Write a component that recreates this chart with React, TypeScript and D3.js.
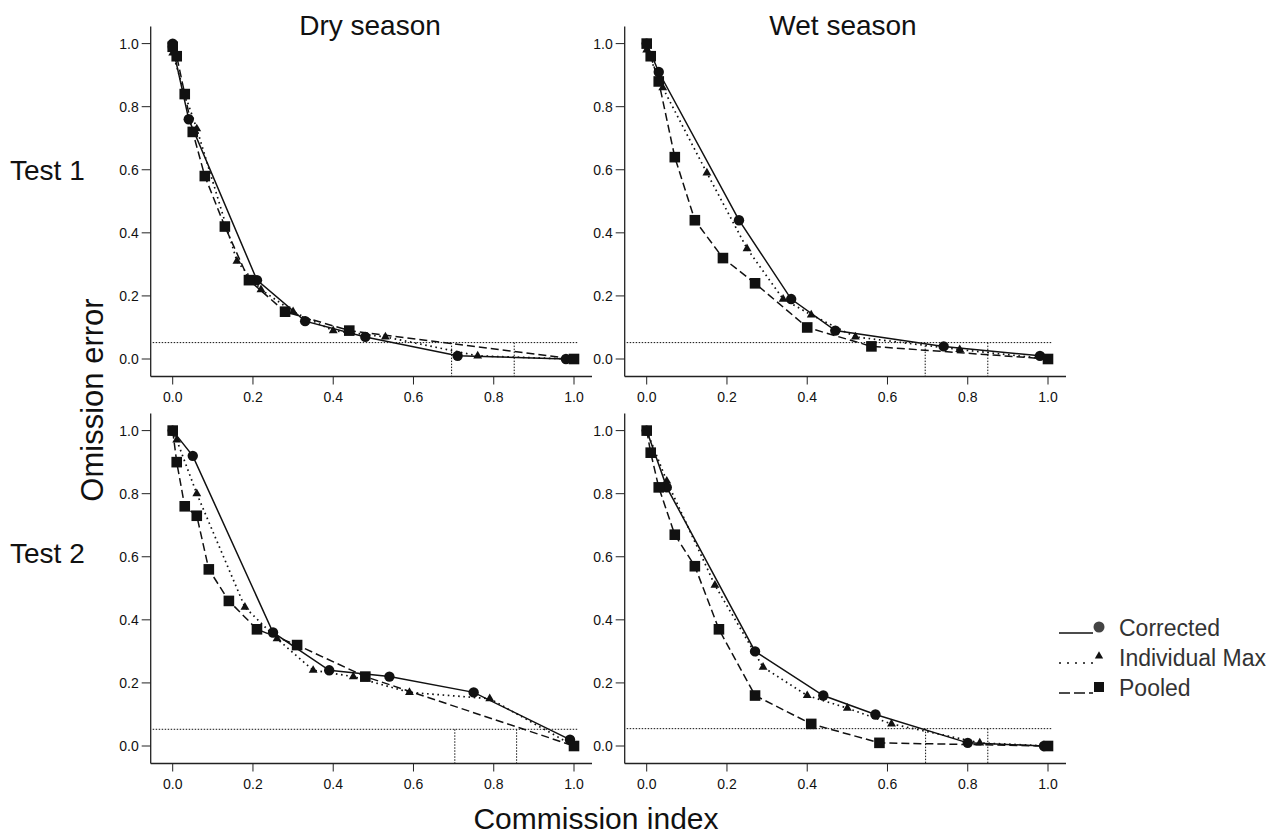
import React from "react";
import * as d3 from "d3";

type Pt = [number, number];

// Commission index (x), Omission error (y)
const dryT1Corrected: Pt[] = [[0, 1.0], [0.0, 0.99], [0.04, 0.76], [0.21, 0.25], [0.33, 0.12], [0.48, 0.07], [0.71, 0.01], [0.98, 0.0]];
const dryT1IndMax: Pt[] = [[0, 0.97], [0.03, 0.84], [0.06, 0.73], [0.16, 0.31], [0.22, 0.22], [0.3, 0.15], [0.4, 0.09], [0.53, 0.07], [0.76, 0.01], [0.99, 0.0]];
const dryT1Pooled: Pt[] = [[0, 0.99], [0.01, 0.96], [0.03, 0.84], [0.05, 0.72], [0.08, 0.58], [0.13, 0.42], [0.19, 0.25], [0.28, 0.15], [0.44, 0.09], [1.0, 0.0]];

const wetT1Corrected: Pt[] = [[0, 1.0], [0.03, 0.91], [0.23, 0.44], [0.36, 0.19], [0.47, 0.09], [0.74, 0.04], [0.98, 0.01]];
const wetT1IndMax: Pt[] = [[0, 0.98], [0.04, 0.86], [0.15, 0.59], [0.25, 0.35], [0.34, 0.19], [0.41, 0.14], [0.52, 0.07], [0.78, 0.03], [1.0, 0.0]];
const wetT1Pooled: Pt[] = [[0, 1.0], [0.01, 0.96], [0.03, 0.88], [0.07, 0.64], [0.12, 0.44], [0.19, 0.32], [0.27, 0.24], [0.4, 0.1], [0.56, 0.04], [1.0, 0.0]];

const dryT2Corrected: Pt[] = [[0, 1.0], [0.05, 0.92], [0.25, 0.36], [0.39, 0.24], [0.54, 0.22], [0.75, 0.17], [0.99, 0.02]];
const dryT2IndMax: Pt[] = [[0, 1.0], [0.01, 0.97], [0.06, 0.8], [0.18, 0.44], [0.26, 0.34], [0.35, 0.24], [0.45, 0.22], [0.59, 0.17], [0.79, 0.15], [1.0, 0.0]];
const dryT2Pooled: Pt[] = [[0, 1.0], [0.01, 0.9], [0.03, 0.76], [0.06, 0.73], [0.09, 0.56], [0.14, 0.46], [0.21, 0.37], [0.31, 0.32], [0.48, 0.22], [1.0, 0.0]];

const wetT2Corrected: Pt[] = [[0, 1.0], [0.05, 0.82], [0.27, 0.3], [0.44, 0.16], [0.57, 0.1], [0.8, 0.01], [0.99, 0.0]];
const wetT2IndMax: Pt[] = [[0, 1.0], [0.05, 0.84], [0.17, 0.51], [0.29, 0.25], [0.4, 0.16], [0.5, 0.12], [0.61, 0.07], [0.83, 0.01], [1.0, 0.0]];
const wetT2Pooled: Pt[] = [[0, 1.0], [0.01, 0.93], [0.03, 0.82], [0.07, 0.67], [0.12, 0.57], [0.18, 0.37], [0.27, 0.16], [0.41, 0.07], [0.58, 0.01], [1.0, 0.0]];

const refOmission = [0.052, 0.052, 0.053, 0.055];
const refCommission: number[][] = [[0.695, 0.851], [0.694, 0.85], [0.703, 0.857], [0.695, 0.85]];

const xTicks = [0, 0.2, 0.4, 0.6, 0.8, 1.0];
const yTicks = [0, 0.2, 0.4, 0.6, 0.8, 1.0];
const columnTitles = ["Dry season", "Wet season"];
const rowTitles = ["Test 1", "Test 2"];
const seriesNames = ["Corrected", "Individual Max", "Pooled"];

const panelData: Pt[][][] = [
  [dryT1Corrected, dryT1IndMax, dryT1Pooled],
  [wetT1Corrected, wetT1IndMax, wetT1Pooled],
  [dryT2Corrected, dryT2IndMax, dryT2Pooled],
  [wetT2Corrected, wetT2IndMax, wetT2Pooled],
];

const FONT = "'Liberation Sans', Arial, Helvetica, sans-serif";
const dashes = [null, "1.6,3.6", "8,4"];

function Marker({ kind, x, y }: { kind: number; x: number; y: number }) {
  if (kind === 0) return <circle cx={x} cy={y} r={5.2} fill="#111" />;
  if (kind === 1) {
    const p = d3.symbol(d3.symbolTriangle, 34)();
    return <path d={p as string} transform={`translate(${x},${y})`} fill="#111" />;
  }
  return <rect x={x - 5.3} y={y - 5.3} width={10.6} height={10.6} fill="#111" />;
}

function Panel({ idx }: { idx: number }) {
  const col = idx % 2;
  const row = Math.floor(idx / 2);
  const x0 = col === 0 ? 172.7 : 646.7;
  const yBottom = row === 0 ? 359 : 746;
  const x = d3.scaleLinear().domain([0, 1]).range([x0, x0 + 401.3]);
  const y = d3.scaleLinear().domain([0, 1]).range([yBottom, yBottom - 315.4]);
  const axisX = x0 - 22;
  const axisY = yBottom + 17.5;
  const axisTop = y(1) - 17;
  const axisRight = x(1) + 18;
  const line = d3.line<Pt>().x((d) => x(d[0])).y((d) => y(d[1]));
  const series = panelData[idx];
  const ry = y(refOmission[idx]);
  return (
    <g>
      <line x1={axisX + 2} x2={x(1) + 4} y1={ry} y2={ry} stroke="#111" strokeWidth={1} strokeDasharray="1.5,1.5" />
      {refCommission[idx].map((c, i) => (
        <line key={i} x1={x(c)} x2={x(c)} y1={ry} y2={axisY} stroke="#111" strokeWidth={1} strokeDasharray="1.5,1.5" />
      ))}
      {series.map((s, k) => (
        <path key={k} d={line(s) as string} fill="none" stroke="#111" strokeWidth={k === 1 ? 1.7 : 1.5} strokeDasharray={dashes[k] ?? undefined} />
      ))}
      {series.map((s, k) =>
        s.map((d, j) => <Marker key={`${k}-${j}`} kind={k} x={x(d[0])} y={y(d[1])} />)
      )}
      <line x1={axisX} x2={axisX} y1={axisTop} y2={axisY} stroke="#222" strokeWidth={1.3} />
      <line x1={axisX} x2={axisRight} y1={axisY} y2={axisY} stroke="#222" strokeWidth={1.3} />
      {yTicks.map((t) => (
        <g key={t}>
          <line x1={axisX - 9} x2={axisX} y1={y(t)} y2={y(t)} stroke="#222" strokeWidth={1} />
          <text x={axisX - 12} y={y(t)} dy="0.36em" textAnchor="end" fontSize={14} fontFamily={FONT} fill="#111">
            {t.toFixed(1)}
          </text>
        </g>
      ))}
      {xTicks.map((t) => (
        <g key={t}>
          <line x1={x(t)} x2={x(t)} y1={axisY} y2={axisY + 8} stroke="#222" strokeWidth={1} />
          <text x={x(t)} y={axisY + 25} textAnchor="middle" fontSize={14} fontFamily={FONT} fill="#111">
            {t.toFixed(1)}
          </text>
        </g>
      ))}
    </g>
  );
}

export default function App() {
  const legendY = [628, 658, 688];
  return (
    <svg width={1282} height={833} style={{ position: "absolute", left: 0, top: 0, background: "#fff" }}>
      <rect width={1282} height={833} fill="#fff" />
      {[0, 1, 2, 3].map((i) => (
        <Panel key={i} idx={i} />
      ))}
      {columnTitles.map((t, i) => (
        <text key={t} x={i === 0 ? 370 : 843} y={35} textAnchor="middle" fontSize={28} fontFamily={FONT} fill="#111">
          {t}
        </text>
      ))}
      {rowTitles.map((t, i) => (
        <text key={t} x={10} y={i === 0 ? 180 : 563} fontSize={28} fontFamily={FONT} fill="#111">
          {t}
        </text>
      ))}
      <text transform="translate(103,400) rotate(-90)" textAnchor="middle" fontSize={31} fontFamily={FONT} fill="#111">
        Omission error
      </text>
      <text x={596} y={818} dy="0.35em" textAnchor="middle" fontSize={30} fontFamily={FONT} fill="#111">
        Commission index
      </text>
      {seriesNames.map((n, k) => (
        <g key={n}>
          <line x1={1059} x2={1093} y1={legendY[k] + 5} y2={legendY[k] + 5} stroke="#111" strokeWidth={1.6} strokeDasharray={k === 0 ? undefined : k === 1 ? "2,6" : "11,4"} />
          {k === 0 && <circle cx={1099} cy={legendY[k] - 1} r={5.5} fill="#444" />}
          {k === 1 && <path d={d3.symbol(d3.symbolTriangle, 30)() as string} transform={`translate(1099,${legendY[k] - 2})`} fill="#111" />}
          {k === 2 && <rect x={1094} y={legendY[k] - 6} width={10} height={10} fill="#111" />}
          <text x={1119} y={legendY[k]} dy="0.36em" fontSize={23} fontFamily={FONT} fill="#333">
            {n}
          </text>
        </g>
      ))}
    </svg>
  );
}
